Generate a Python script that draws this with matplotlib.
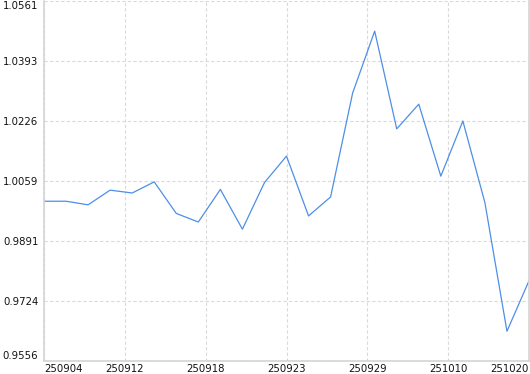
import matplotlib
matplotlib.use('Agg')
import matplotlib.pyplot as plt
import numpy as np

# values, one per point
values = [1.0002, 1.0002, 0.9992, 1.0033, 1.0025, 1.0056, 0.9968, 0.9944,
          1.0035, 0.9924, 1.0054, 1.0128, 0.9961, 1.0014, 1.0304, 1.0477,
          1.0204, 1.0273, 1.0072, 1.0226, 0.9998, 0.9639, 0.9780]
x_labels = ['250904', '250912', '250918', '250923', '250929', '251010', '251020']
y_ticks = [0.9556, 0.9724, 0.9891, 1.0059, 1.0226, 1.0393, 1.0561]

grid_col = '#dadada'
line_col = '#4d8fe6'

fig = plt.figure(figsize=(5.3, 3.74), dpi=100)
ax = fig.add_axes([44 / 530, 13 / 374, 485 / 530, 360 / 374])

xs = np.arange(len(values))
ax.plot(xs, values, color=line_col, linewidth=0.9)

n = len(values) - 1
ax.set_xlim(0, n)
ax.set_ylim(y_ticks[0], y_ticks[-1])

x_pos = [n * k / (len(x_labels) - 1) for k in range(len(x_labels))]
ax.set_xticks(x_pos)
ax.set_xticklabels(x_labels, fontsize=7.3, color='#111111')
ax.set_yticks(y_ticks)
ax.set_yticklabels([f'{v:.4f}' for v in y_ticks], fontsize=7.3, color='#111111')
ax.tick_params(axis='both', length=0)
ax.tick_params(axis='x', pad=2)
ax.tick_params(axis='y', pad=4)

# keep edge labels inside the figure like the original
xl = ax.get_xticklabels()
xl[0].set_horizontalalignment('left')
xl[-1].set_horizontalalignment('right')
yl = ax.get_yticklabels()
yl[0].set_verticalalignment('bottom')
yl[-1].set_verticalalignment('top')

ax.grid(True, color=grid_col, linestyle=(0, (3, 2)), linewidth=0.8)
ax.set_axisbelow(True)
for side in ['left', 'bottom', 'right']:
    ax.spines[side].set_color('#d4d4d4')
    ax.spines[side].set_linewidth(1.2)
ax.spines['top'].set_visible(False)

fig.savefig('out.png', dpi=100)
